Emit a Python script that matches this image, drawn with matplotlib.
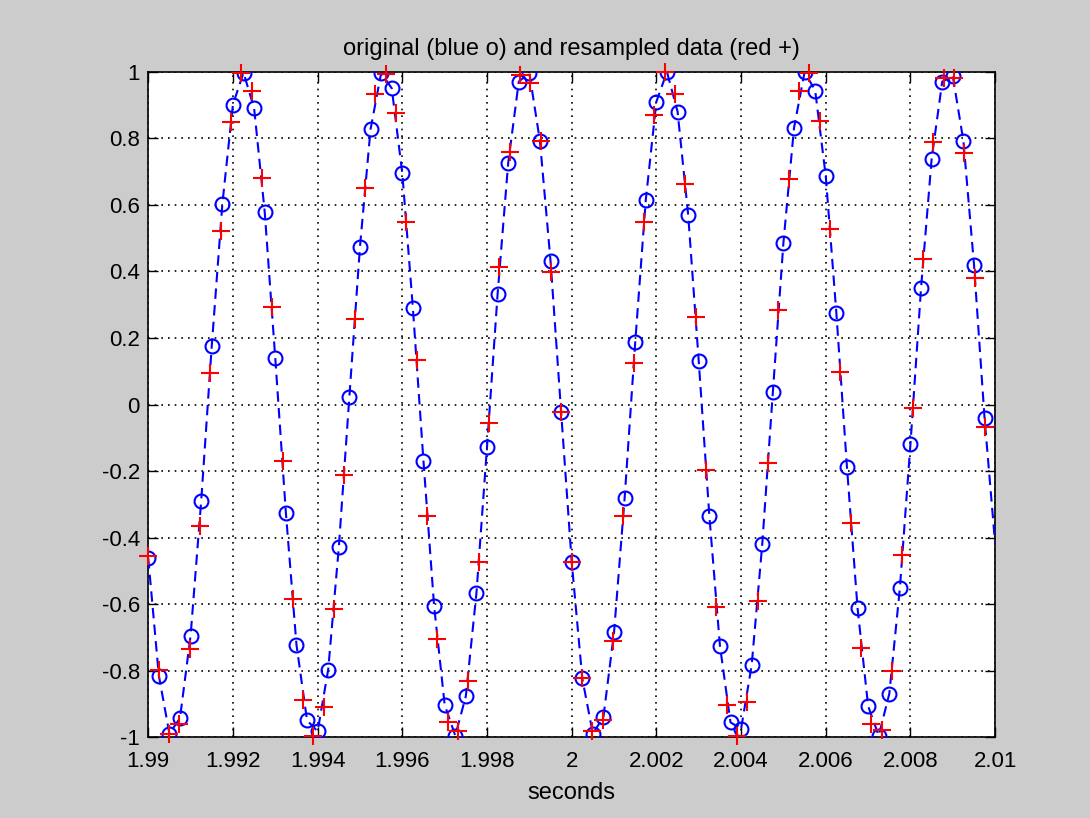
"""Original vs resampled sinusoid, MATLAB-style figure."""

import matplotlib

matplotlib.use("Agg")

import matplotlib.pyplot as plt  # noqa: E402

plt.rcParams["font.family"] = ["Liberation Sans", "DejaVu Sans"]

# Original samples (blue o)
t_orig = [
    1.99000, 1.99025, 1.99050, 1.99075, 1.99100, 1.99125, 1.99150, 1.99175, 1.99200, 1.99225,
    1.99250, 1.99275, 1.99300, 1.99325, 1.99350, 1.99375, 1.99400, 1.99425, 1.99450, 1.99475,
    1.99500, 1.99525, 1.99550, 1.99575, 1.99600, 1.99625, 1.99650, 1.99675, 1.99700, 1.99725,
    1.99750, 1.99775, 1.99800, 1.99825, 1.99850, 1.99875, 1.99900, 1.99925, 1.99950, 1.99975,
    2.00000, 2.00025, 2.00050, 2.00075, 2.00100, 2.00125, 2.00150, 2.00175, 2.00200, 2.00225,
    2.00250, 2.00275, 2.00300, 2.00325, 2.00350, 2.00375, 2.00400, 2.00425, 2.00450, 2.00475,
    2.00500, 2.00525, 2.00550, 2.00575, 2.00600, 2.00625, 2.00650, 2.00675, 2.00700, 2.00725,
    2.00750, 2.00775, 2.00800, 2.00825, 2.00850, 2.00875, 2.00900, 2.00925, 2.00950, 2.00975,
    2.01000,
]
y_orig = [
    -0.462, -0.815, -0.990, -0.943, -0.695, -0.291, 0.176, 0.603, 0.902, 0.998,
    0.891, 0.580, 0.139, -0.325, -0.722, -0.950, -0.983, -0.797, -0.430, 0.024,
    0.474, 0.828, 0.997, 0.951, 0.695, 0.289, -0.171, -0.605, -0.903, -0.996,
    -0.877, -0.568, -0.128, 0.332, 0.726, 0.971, 0.997, 0.792, 0.432, -0.022,
    -0.473, -0.824, -0.990, -0.939, -0.685, -0.281, 0.187, 0.616, 0.911, 1.000,
    0.881, 0.571, 0.130, -0.334, -0.725, -0.956, -0.975, -0.784, -0.420, 0.037,
    0.487, 0.832, 1.000, 0.944, 0.686, 0.275, -0.188, -0.612, -0.907, -0.996,
    -0.870, -0.552, -0.118, 0.351, 0.739, 0.971, 0.987, 0.792, 0.421, -0.042,
    -0.420,
]

# Resampled data (red +)
t_resamp = [
    1.990000, 1.990244, 1.990488, 1.990732, 1.990976, 1.991220, 1.991463, 1.991707,
    1.991951, 1.992195, 1.992439, 1.992683, 1.992927, 1.993171, 1.993415, 1.993659,
    1.993902, 1.994146, 1.994390, 1.994634, 1.994878, 1.995122, 1.995366, 1.995610,
    1.995854, 1.996098, 1.996341, 1.996585, 1.996829, 1.997073, 1.997317, 1.997561,
    1.997805, 1.998049, 1.998293, 1.998537, 1.998780, 1.999024, 1.999268, 1.999512,
    1.999756, 2.000000, 2.000244, 2.000488, 2.000732, 2.000976, 2.001220, 2.001463,
    2.001707, 2.001951, 2.002195, 2.002439, 2.002683, 2.002927, 2.003171, 2.003415,
    2.003659, 2.003902, 2.004146, 2.004390, 2.004634, 2.004878, 2.005122, 2.005366,
    2.005610, 2.005854, 2.006098, 2.006341, 2.006585, 2.006829, 2.007073, 2.007317,
    2.007561, 2.007805, 2.008049, 2.008293, 2.008537, 2.008780, 2.009024, 2.009268,
    2.009512, 2.009756,
]
y_resamp = [
    -0.455, -0.797, -0.990, -0.960, -0.735, -0.364, 0.094, 0.521,
    0.849, 0.997, 0.942, 0.682, 0.293, -0.171, -0.585, -0.890,
    -0.996, -0.910, -0.616, -0.212, 0.256, 0.650, 0.934, 0.995,
    0.878, 0.550, 0.134, -0.334, -0.705, -0.956, -0.983, -0.833,
    -0.473, -0.056, 0.415, 0.759, 0.991, 0.968, 0.792, 0.399,
    -0.022, -0.473, -0.824, -0.983, -0.950, -0.711, -0.334, 0.126,
    0.550, 0.872, 1.000, 0.934, 0.664, 0.262, -0.197, -0.608,
    -0.903, -0.996, -0.894, -0.592, -0.175, 0.285, 0.677, 0.942,
    0.997, 0.854, 0.527, 0.099, -0.356, -0.731, -0.960, -0.980,
    -0.800, -0.453, -0.012, 0.438, 0.788, 0.981, 0.981, 0.756,
    0.381, -0.069,
]

x_ticks = [1.99, 1.992, 1.994, 1.996, 1.998, 2.0, 2.002, 2.004, 2.006, 2.008, 2.01]
x_labels = ["1.99", "1.992", "1.994", "1.996", "1.998", "2",
            "2.002", "2.004", "2.006", "2.008", "2.01"]
y_ticks = [-1, -0.8, -0.6, -0.4, -0.2, 0, 0.2, 0.4, 0.6, 0.8, 1]
y_labels = ["-1", "-0.8", "-0.6", "-0.4", "-0.2", "0", "0.2", "0.4", "0.6", "0.8", "1"]

fig = plt.figure(figsize=(10.9, 8.18), dpi=100, facecolor="#cccccc")
ax = fig.add_axes([0.136, 0.099, 0.777, 0.813])
ax.set_facecolor("white")

# dashed line through all original samples; last one sits on the edge, no marker
ax.plot(t_orig, y_orig, linestyle=(0, (5, 3)), color="#0000ff", linewidth=1.5,
        marker="o", markersize=10, markerfacecolor="none", markeredgecolor="#0000ff",
        markeredgewidth=1.5, markevery=slice(0, len(t_orig) - 1), zorder=3)
ax.plot(t_resamp, y_resamp, linestyle="none", marker="+", markersize=13,
        color="#ff0000", markeredgewidth=1.5, clip_on=False, zorder=4)

ax.set_xlim(1.99, 2.01)
ax.set_ylim(-1, 1)
ax.set_xticks(x_ticks)
ax.set_xticklabels(x_labels)
ax.set_yticks(y_ticks)
ax.set_yticklabels(y_labels)
ax.tick_params(direction="in", top=True, right=True, length=7, width=1,
               labelsize=16)
ax.tick_params(axis="x", pad=10)
ax.tick_params(axis="y", pad=6)
ax.grid(True, color="black", linestyle=(0, (1, 3)), linewidth=1.2)
for spine in ax.spines.values():
    spine.set_linewidth(1.2)

ax.set_title("original (blue o) and resampled data (red +)", fontsize=17, pad=12)
ax.set_xlabel("seconds", fontsize=17, labelpad=7)

fig.savefig("out.png", dpi=100, facecolor=fig.get_facecolor())
